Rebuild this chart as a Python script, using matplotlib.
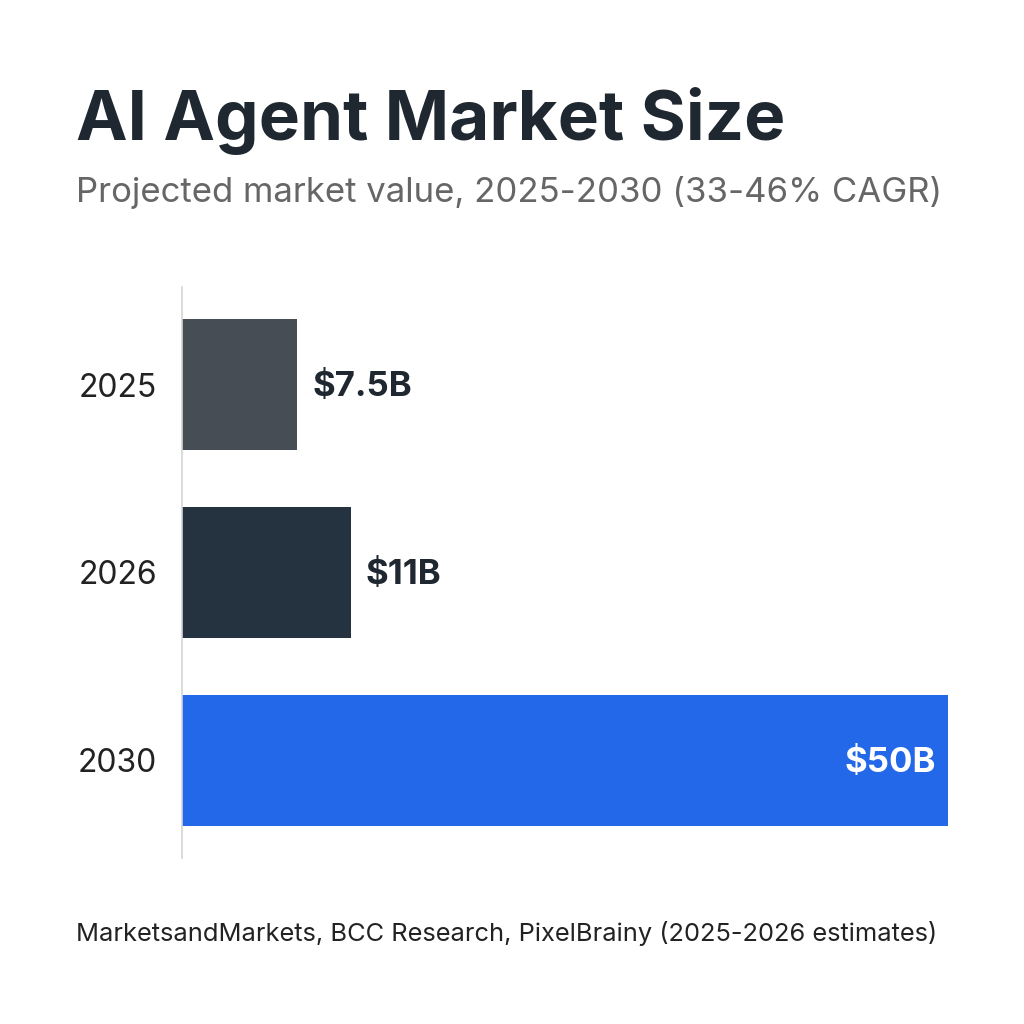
import matplotlib.pyplot as plt

# data
years = ['2025', '2026', '2030']
values = [7.5, 11, 50]
labels = ['$7.5B', '$11B', '$50B']
colors = ['#474d55', '#253341', '#2368e8']

plt.rcParams['font.family'] = ['Inter', 'DejaVu Sans']

fig = plt.figure(figsize=(10.24, 10.24), dpi=100)
ax = fig.add_axes([182/1024, 1 - 858/1024, 766/1024, 571/1024])

ypos = list(range(len(years)))
ax.barh(ypos, values, height=0.70, color=colors)
ax.set_xlim(0, 50)
ax.set_ylim(2.52, -0.52)

ax.set_yticks(ypos)
ax.set_yticklabels(years, fontsize=23, color='#222222')
ax.tick_params(axis='y', length=0, pad=18)
ax.set_xticks([])
for s in ['top', 'right', 'bottom']:
    ax.spines[s].set_visible(False)
ax.spines['left'].set_color('#d4d4d4')
ax.spines['left'].set_linewidth(1.2)

# value labels
for i, (v, lab) in enumerate(zip(values, labels)):
    if v > 40:
        ax.annotate(lab, (v, i), xytext=(-9, -2), textcoords='offset points',
                    ha='right', va='center', fontsize=25, fontweight='bold', color='white')
    else:
        ax.annotate(lab, (v, i), xytext=(11, -2), textcoords='offset points',
                    ha='left', va='center', fontsize=25, fontweight='bold', color='#1f2730')

fig.text(76/1024, 1 - 140/1024, 'AI Agent Market Size', fontsize=49.8, fontweight='bold',
         color='#1f2730', ha='left', va='baseline')
fig.text(76/1024, 1 - 202/1024, 'Projected market value, 2025-2030 (33-46% CAGR)',
         fontsize=25, color='#666666', ha='left', va='baseline')
fig.text(76/1024, 1 - 941/1024, 'MarketsandMarkets, BCC Research, PixelBrainy (2025-2026 estimates)',
         fontsize=18.3, color='#222222', ha='left', va='baseline')

fig.savefig('out.png', dpi=100, facecolor='white')
